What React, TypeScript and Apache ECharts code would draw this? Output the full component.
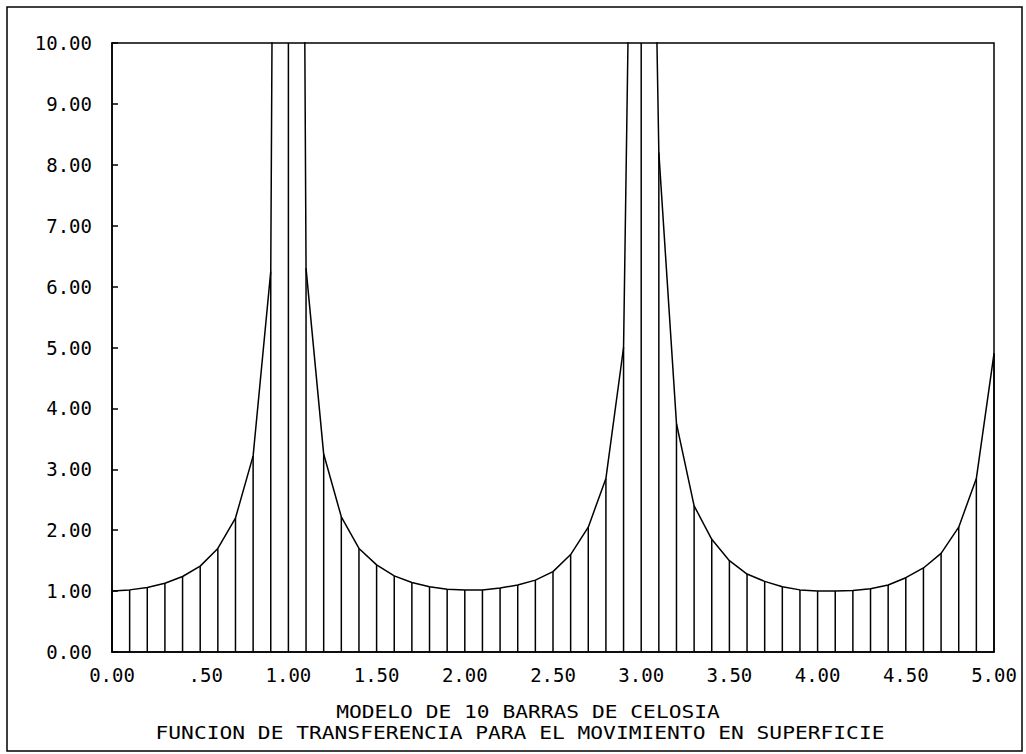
import React, { useEffect, useRef } from "react";
import * as echarts from "echarts";

const xValues = [
  0.0, 0.1, 0.2, 0.3, 0.4, 0.5, 0.6, 0.7, 0.8, 0.9,
  1.0, 1.1, 1.2, 1.3, 1.4, 1.5, 1.6, 1.7, 1.8, 1.9,
  2.0, 2.1, 2.2, 2.3, 2.4, 2.5, 2.6, 2.7, 2.8, 2.9,
  3.0, 3.1, 3.2, 3.3, 3.4, 3.5, 3.6, 3.7, 3.8, 3.9,
  4.0, 4.1, 4.2, 4.3, 4.4, 4.5, 4.6, 4.7, 4.8, 4.9,
  5.0,
];

const transferValues = [
  1.0, 1.02, 1.06, 1.13, 1.24, 1.41, 1.7, 2.2, 3.22, 6.25,
  60, 6.3, 3.25, 2.22, 1.7, 1.43, 1.25, 1.14, 1.07, 1.03,
  1.02, 1.02, 1.05, 1.1, 1.18, 1.32, 1.6, 2.05, 2.85, 5.0,
  25, 8.2, 3.75, 2.4, 1.85, 1.5, 1.28, 1.16, 1.07, 1.02,
  1.0, 1.0, 1.01, 1.04, 1.1, 1.22, 1.38, 1.62, 2.05, 2.85,
  4.9,
];

const xTickLabels = ["0.00", ".50", "1.00", "1.50", "2.00", "2.50", "3.00", "3.50", "4.00", "4.50", "5.00"];
const yTickLabels = ["0.00", "1.00", "2.00", "3.00", "4.00", "5.00", "6.00", "7.00", "8.00", "9.00", "10.00"];

const titleLine1 = "MODELO DE 10 BARRAS DE CELOSIA";
const titleLine2 = "FUNCION DE TRANSFERENCIA PARA EL MOVIMIENTO EN SUPERFICIE";

const FONT = "'DejaVu Sans Mono', 'Liberation Mono', monospace";

export default function App() {
  const ref = useRef<HTMLDivElement>(null);

  useEffect(() => {
    if (!ref.current) return;
    const chart = echarts.init(ref.current, null, { renderer: "svg" });
    const pts = xValues.map((x, i) => [x, transferValues[i]]);

    chart.setOption({
      animation: false,
      backgroundColor: "#ffffff",
      grid: {
        left: 112,
        right: 32,
        top: 43,
        bottom: 102,
        show: true,
        borderColor: "#000",
        borderWidth: 1.5,
        backgroundColor: "transparent",
      },
      xAxis: {
        type: "value",
        min: 0,
        max: 5,
        interval: 0.5,
        splitLine: { show: false },
        axisTick: { show: false },
        axisLine: { show: true, lineStyle: { color: "#000", width: 1.5 } },
        axisLabel: {
          color: "#000",
          fontFamily: FONT,
          fontSize: 19,
          margin: 13,
          showMinLabel: true,
          showMaxLabel: true,
          formatter: (v: number) => {
            const idx = Math.round(v / 0.5);
            const t = xTickLabels[idx] ?? "";
            return t.startsWith(".") ? `{s|${t}}` : t;
          },
          rich: {
            s: { fontFamily: FONT, fontSize: 19, color: "#000", padding: [0, 0, 0, 11] },
          },
        },
      },
      yAxis: {
        type: "value",
        min: 0,
        max: 10,
        interval: 1,
        splitLine: { show: false },
        axisTick: { show: true, inside: true, length: 6, lineStyle: { color: "#000", width: 1.5 } },
        axisLine: { show: true, lineStyle: { color: "#000", width: 1.5 } },
        axisLabel: {
          color: "#000",
          fontFamily: FONT,
          fontSize: 19,
          margin: 20,
          formatter: (v: number) => yTickLabels[Math.round(v)] ?? "",
        },
      },
      series: [
        {
          type: "bar",
          data: pts,
          barWidth: 1.5,
          clip: true,
          itemStyle: { color: "#000" },
          silent: true,
        },
        {
          type: "line",
          data: pts,
          symbol: "none",
          clip: true,
          lineStyle: { color: "#000", width: 1.5 },
          silent: true,
        },
      ],
      graphic: [
        {
          type: "rect",
          shape: { x: 7, y: 7, width: 1015, height: 744 },
          style: { fill: "none", stroke: "#000", lineWidth: 1.5 },
          silent: true,
        },
        {
          type: "text",
          x: 528,
          y: 712,
          scaleX: 1.25,
          style: {
            text: titleLine1,
            fontFamily: FONT,
            fontSize: 17,
            fill: "#000",
            align: "center",
            verticalAlign: "middle",
          },
        },
        {
          type: "text",
          x: 520,
          y: 733,
          scaleX: 1.25,
          style: {
            text: titleLine2,
            fontFamily: FONT,
            fontSize: 17,
            fill: "#000",
            align: "center",
            verticalAlign: "middle",
          },
        },
      ],
    });

    return () => chart.dispose();
  }, []);

  return (
    <div
      ref={ref}
      style={{ position: "fixed", left: 0, top: 0, width: 1026, height: 754, background: "#fff" }}
    />
  );
}
